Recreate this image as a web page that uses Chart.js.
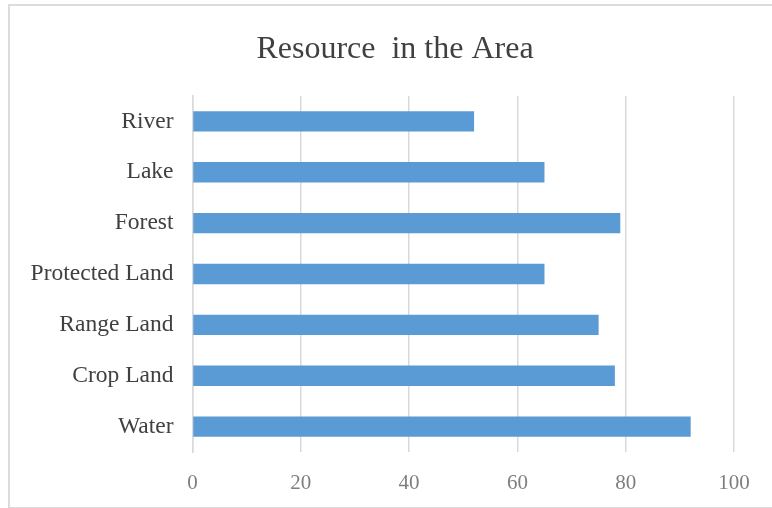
<!DOCTYPE html>
<html>
<head>
<meta charset="utf-8">
<title>Resource in the Area</title>
<script src="https://cdn.jsdelivr.net/npm/chart.js@4.4.0/dist/chart.umd.min.js"></script>
<style>
  html, body { margin: 0; padding: 0; background: #fff; overflow: hidden; }
  #wrap { position: relative; width: 772px; height: 508px; }
  /* light frame round the chart, open on the right */
  #frame {
    position: absolute; left: 8px; top: 4px; width: 800px; height: 501px;
    border: 2px solid #dcdcdc; border-right: none;
  }
  #resChart { position: absolute; left: 0; top: 0; }
</style>
</head>
<body>
<div id="wrap">
  <div id="frame"></div>
  <canvas id="resChart" width="772" height="508"></canvas>
</div>
<script>
// --- Resource data ---
const resources = ['River', 'Lake', 'Forest', 'Protected Land', 'Range Land', 'Crop Land', 'Water'];
const amounts = [52, 65, 79, 65, 75, 78, 92];
const xTicks = [0, 20, 40, 60, 80, 100];

const serif = "'Liberation Serif', 'Times New Roman', serif";

const ctx = document.getElementById('resChart').getContext('2d');
new Chart(ctx, {
  type: 'bar',
  data: {
    labels: resources,
    datasets: [{
      data: amounts,
      backgroundColor: '#5b9bd5',
      borderWidth: 0,
      categoryPercentage: 1,
      barPercentage: 0.4
    }]
  },
  options: {
    indexAxis: 'y',
    responsive: false,
    animation: false,
    layout: { padding: { left: 18, right: 0, top: 0, bottom: 0 } },
    plugins: {
      legend: { display: false },
      tooltip: { enabled: false },
      title: {
        display: true,
        text: 'Resource  in the Area',
        color: '#404040',
        font: { family: serif, size: 32, weight: 'normal' },
        padding: { top: 30, bottom: 27.6 }
      }
    },
    scales: {
      x: {
        min: 0,
        max: 100,
        afterBuildTicks: (axis) => { axis.ticks = xTicks.map(v => ({ value: v })); },
        afterFit: (axis) => { axis.height = 56; },
        grid: { color: '#d9d9d9', lineWidth: 1.5, drawTicks: false },
        border: { display: false },
        ticks: {
          color: '#7f7f7f',
          padding: 19,
          font: { family: serif, size: 21 }
        }
      },
      y: {
        grid: { display: false, drawTicks: false },
        border: { display: true, color: '#d9d9d9', width: 1.5 },
        afterFit: (axis) => { axis.width = 174.5; },
        ticks: {
          color: '#404040',
          padding: 19,
          font: { family: serif, size: 23.5 }
        }
      },
      // empty strip on the right, keeps room after the 100 gridline
      yEdge: {
        axis: 'y',
        type: 'category',
        position: 'right',
        grid: { display: false, drawTicks: false },
        border: { display: false },
        ticks: { display: false },
        afterFit: (axis) => { axis.width = 38; }
      }
    }
  }
});
</script>
</body>
</html>
